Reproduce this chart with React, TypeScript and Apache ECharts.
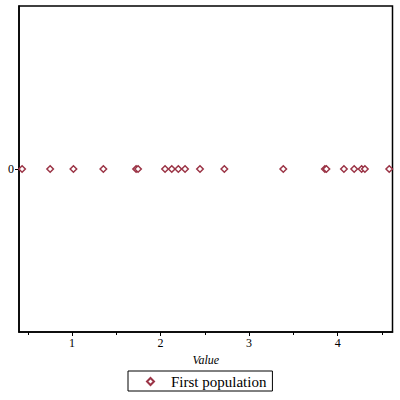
import React, { useEffect, useRef } from "react";
import * as echarts from "echarts";

const seriesName = "First population";
const values: number[] = [
  0.435, 0.752, 1.015, 1.353, 1.723, 1.745, 2.05, 2.126, 2.2, 2.276, 2.445,
  2.72, 3.386, 3.856, 3.873, 4.071, 4.187, 4.271, 4.308, 4.583,
];
const xTicks: number[] = [1, 2, 3, 4];
const xMinorTicks: number[] = [0.5, 1.5, 2.5, 3.5, 4.5];
const yTicks: number[] = [0];
const xTitle = "Value";

const FONT = "Times New Roman";
const MARK = "#9b3446";

export default function App() {
  const ref = useRef<HTMLDivElement>(null);
  useEffect(() => {
    if (!ref.current) return;
    const chart = echarts.init(ref.current, null, { renderer: "svg" });
    chart.setOption({
      animation: false,
      backgroundColor: "#fff",
      textStyle: { fontFamily: FONT },
      grid: {
        left: 19,
        top: 6,
        right: 7.5,
        bottom: 68,
        show: true,
        borderColor: "#000",
        borderWidth: 1.5,
        backgroundColor: "transparent",
      },
      legend: {
        left: 128,
        top: 371,
        orient: "horizontal",
        borderColor: "#000",
        borderWidth: 1,
        borderRadius: 0,
        padding: [3, 6, 2, 18],
        itemWidth: 7,
        itemHeight: 7,
        textStyle: {
          fontFamily: FONT,
          fontSize: 15,
          color: "#000",
          padding: [0, 0, 0, 12],
        },
        data: [seriesName],
      },
      xAxis: [
        {
          type: "value",
          min: 0.4,
          max: 4.62,
          name: xTitle,
          nameLocation: "middle",
          nameGap: 21,
          nameTextStyle: {
            fontFamily: FONT,
            fontStyle: "italic",
            fontSize: 12,
            color: "#000",
          },
          axisLine: { show: true, onZero: false, lineStyle: { color: "#000", width: 1.5 } },
          axisTick: {
            show: true,
            length: 4,
            customValues: xTicks,
            lineStyle: { color: "#000" },
          },
          axisLabel: {
            customValues: xTicks,
            fontFamily: FONT,
            fontSize: 12,
            color: "#000",
            margin: 5,
          },
          splitLine: { show: false },
        },
        {
          type: "value",
          min: 0.4,
          max: 4.62,
          position: "bottom",
          axisLine: { show: false, onZero: false },
          axisTick: {
            show: true,
            length: 3,
            customValues: xMinorTicks,
            lineStyle: { color: "#000" },
          },
          axisLabel: { show: false },
          splitLine: { show: false },
        },
      ],
      yAxis: {
        type: "value",
        min: -1,
        max: 1,
        axisLine: { show: true, onZero: false, lineStyle: { color: "#000", width: 1.5 } },
        axisTick: {
          show: true,
          length: 4,
          customValues: yTicks,
          lineStyle: { color: "#000" },
        },
        axisLabel: {
          customValues: yTicks,
          fontFamily: FONT,
          fontSize: 12,
          color: "#000",
          margin: 5,
        },
        splitLine: { show: false },
      },
      series: [
        {
          name: seriesName,
          type: "scatter",
          xAxisIndex: 0,
          symbol: "diamond",
          symbolSize: 6.5,
          itemStyle: {
            color: "#fff",
            borderColor: MARK,
            borderWidth: 1.5,
            opacity: 1,
          },
          data: values.map((v) => [v, 0]),
        },
      ],
    });
    return () => chart.dispose();
  }, []);
  return <div ref={ref} style={{ width: 400, height: 400, position: "absolute", left: 0, top: 0 }} />;
}
